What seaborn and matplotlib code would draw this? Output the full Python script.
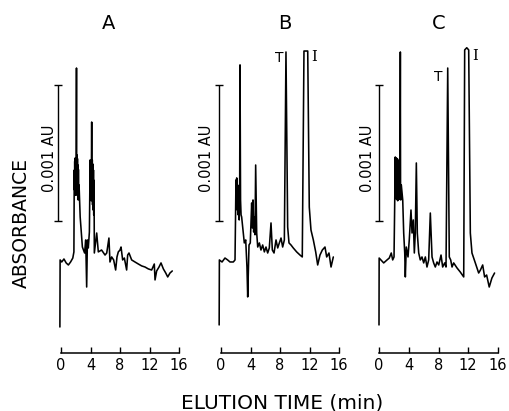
import matplotlib
matplotlib.use("Agg")
import matplotlib.pyplot as plt
import seaborn as sns
import pandas as pd

# ---------------- data (elution time in min, absorbance in mAU = 0.001 AU units) -------------
time_a = [-0.15, -0.12, 0.1, 0.4, 0.7, 1.0, 1.3, 1.6, 1.75, 1.8, 1.83, 1.86, 1.9, 1.93, 1.96,
          2.0, 2.03, 2.06, 2.1, 2.13, 2.16, 2.2, 2.23, 2.26, 2.3, 2.33, 2.36, 2.4, 2.45, 2.6,
          2.9, 3.2, 3.35, 3.48, 3.58, 3.7, 3.85, 3.95, 4.0, 4.05, 4.1, 4.16, 4.2, 4.24, 4.28,
          4.32, 4.36, 4.4, 4.44, 4.48, 4.52, 4.84, 5.06, 5.5, 5.97, 6.2, 6.5, 6.64, 6.87,
          7.14, 7.41, 7.59, 7.77, 8.0, 8.14, 8.36, 8.59, 8.9, 9.04, 9.22, 9.58, 10.03, 10.49,
          10.94, 11.39, 11.84, 12.29, 12.65, 12.75, 12.97, 13.29, 13.56, 13.88, 14.2, 14.47,
          14.78, 15.09]
abs_a = [-0.478, 0.015, 0.0, 0.022, -0.007, -0.022, 0.0, 0.029, 0.074, 0.676, 0.529, 0.74,
         0.50, 0.765, 0.49, 0.76, 0.55, 0.72, 1.426, 0.53, 0.787, 0.49, 0.76, 0.50, 0.713,
         0.456, 0.68, 0.46, 0.566, 0.331, 0.110, 0.066, 0.162, -0.184, 0.162, 0.103, 0.221,
         0.75, 0.48, 0.70, 0.45, 1.029, 0.529, 0.75, 0.42, 0.72, 0.382, 0.676, 0.346, 0.60,
         0.066, 0.213, 0.074, 0.088, 0.051, 0.066, 0.176, 0.0, 0.037, 0.015, -0.059, 0.037,
         0.074, 0.088, 0.110, 0.015, 0.029, -0.059, 0.051, 0.066, 0.015, 0.0, -0.015, -0.029,
         -0.037, -0.051, -0.059, -0.015, -0.132, -0.066, -0.037, -0.007, -0.051, -0.081,
         -0.110, -0.081, -0.066]

time_b = [-0.25, -0.22, 0.14, 0.54, 0.9, 1.22, 1.67, 1.9, 2.03, 2.08, 2.13, 2.2, 2.27, 2.33,
          2.4, 2.47, 2.53, 2.58, 2.65, 2.72, 2.8, 3.16, 3.35, 3.52, 3.62, 3.8, 3.97, 4.16,
          4.25, 4.34, 4.43, 4.52, 4.61, 4.7, 4.84, 4.98, 5.2, 5.42, 5.65, 5.88, 6.1, 6.33,
          6.55, 6.78, 6.96, 7.19, 7.46, 7.69, 7.91, 8.14, 8.36, 8.59, 8.81, 9.04, 9.22, 9.49,
          9.8, 10.26, 10.71, 11.02, 11.25, 11.5, 11.76, 11.97, 12.2, 12.52, 12.84, 13.11,
          13.42, 13.74, 14.1, 14.33, 14.64, 14.92, 15.23]
abs_b = [-0.463, 0.015, 0.0, 0.029, 0.015, 0.0, 0.0, 0.015, 0.603, 0.419, 0.618, 0.382, 0.566,
         0.346, 0.529, 0.309, 0.493, 1.449, 0.456, 0.346, 0.331, 0.140, 0.162, -0.037, -0.257,
         0.125, 0.140, 0.434, 0.25, 0.456, 0.22, 0.331, 0.20, 0.713, 0.213, 0.110, 0.140,
         0.088, 0.125, 0.074, 0.110, 0.066, 0.103, 0.287, 0.088, 0.066, 0.162, 0.103, 0.140,
         0.176, 0.110, 0.162, 1.544, 0.257, 0.140, 0.125, 0.103, 0.074, 0.051, 0.037, 1.551,
         1.551, 1.551, 0.404, 0.235, 0.162, 0.074, -0.022, 0.051, 0.088, 0.110, 0.037, 0.066,
         -0.037, 0.037]

time_c = [0.0, 0.02, 0.63, 1.08, 1.38, 1.65, 1.84, 2.02, 2.19, 2.22, 2.25, 2.28, 2.32, 2.36,
          2.4, 2.44, 2.47, 2.51, 2.55, 2.59, 2.62, 2.66, 2.7, 2.74, 2.78, 2.82, 2.87, 2.9,
          2.93, 3.0, 3.19, 3.32, 3.46, 3.54, 3.67, 3.9, 4.07, 4.3, 4.44, 4.61, 4.75, 4.88,
          5.02, 5.15, 5.34, 5.55, 5.78, 6.01, 6.23, 6.45, 6.68, 6.9, 7.13, 7.35, 7.57, 7.8,
          8.03, 8.34, 8.56, 8.83, 9.01, 9.24, 9.45, 9.64, 9.82, 10.04, 10.49, 10.93, 11.39,
          11.52, 11.8, 12.06, 12.28, 12.5, 12.95, 13.4, 13.64, 13.94, 14.2, 14.47, 14.82,
          15.18, 15.54]
abs_c = [-0.463, 0.029, -0.007, 0.015, 0.029, 0.066, 0.015, 0.037, 0.772, 0.48, 0.76, 0.47,
         0.765, 0.46, 0.75, 0.46, 0.76, 0.45, 0.75, 0.46, 0.735, 0.46, 0.74, 0.47, 0.713,
         0.46, 1.544, 0.47, 0.456, 0.566, 0.456, 0.213, 0.066, -0.110, 0.110, 0.037, 0.162,
         0.382, 0.213, 0.309, 0.066, 0.213, 0.728, 0.213, 0.066, 0.015, 0.037, -0.007, 0.037,
         -0.037, 0.015, 0.360, 0.037, -0.007, -0.037, 0.0, -0.022, 0.051, -0.037, -0.007,
         -0.037, 1.426, 0.037, 0.015, -0.037, -0.007, -0.044, -0.074, -0.110, 1.559, 1.575,
         1.559, 0.213, 0.066, -0.007, -0.081, -0.059, -0.022, -0.110, -0.096, -0.184, -0.118,
         -0.081]

panel_titles = ["A", "B", "C"]
x_ticks = [0, 4, 8, 12, 16]
scale_label = "0.001 AU"
scale_bar = [0.30, 1.30]          # 1 mAU = 0.001 AU
peak_labels = ["T", "I"]
x_label = "ELUTION TIME (min)"
y_label = "ABSORBANCE"

# ---------------- layout -----------------------------------------------------------------------
sns.set_theme(style="white")
plt.rcParams["font.family"] = ["DejaVu Sans"]

W, H = 509, 411
fig = plt.figure(figsize=(W / 100, H / 100), dpi=100)

axis_y_px = 352.7
top_px = 40.0
ylim = (-0.667, 1.632)

panels = [
    dict(left=61, width=118, t=time_a, v=abs_a, bar_x=-0.47, lab_x=-1.56,
         title_x=6.4, peaks=None),
    dict(left=221, width=118, t=time_b, v=abs_b, bar_x=-0.31, lab_x=-1.95,
         title_x=8.7, peaks=[(7.9, 1.50), (12.65, 1.507)]),
    dict(left=379, width=119, t=time_c, v=abs_c, bar_x=-0.03, lab_x=-1.6,
         title_x=8.07, peaks=[(7.97, 1.36), (12.9, 1.515)]),
]

for p, title in zip(panels, panel_titles):
    ax = fig.add_axes([p["left"] / W, (H - axis_y_px) / H, p["width"] / W,
                       (axis_y_px - top_px) / H])
    df = pd.DataFrame({"time": p["t"], "absorbance": p["v"]})
    sns.lineplot(data=df, x="time", y="absorbance", sort=False, estimator=None,
                 color="black", lw=1.15, ax=ax)
    ax.set_xlim(0, 16)
    ax.set_ylim(*ylim)
    ax.set_xticks(x_ticks)
    ax.set_xticklabels([str(t) for t in x_ticks])
    ax.set_yticks([])
    ax.set_xlabel("")
    ax.set_ylabel("")
    for s in ["left", "right", "top"]:
        ax.spines[s].set_visible(False)
    ax.spines["bottom"].set_color("black")
    ax.spines["bottom"].set_linewidth(1.1)
    ax.tick_params(axis="x", direction="in", length=4.5, width=1.0, pad=3.5,
                   labelsize=10.5, colors="black", bottom=True)
    ax.patch.set_alpha(0)

    # scale bar 0.001 AU
    ax.errorbar([p["bar_x"]], [sum(scale_bar) / 2], yerr=[[0.5 * (scale_bar[1] - scale_bar[0])]],
                fmt="none", ecolor="black", elinewidth=1.0, capsize=3, capthick=1.0)
    for c in ax.collections:
        c.set_clip_on(False)
    for ln in ax.lines:
        ln.set_clip_on(False)
    ax.text(p["lab_x"], 0.76, scale_label, rotation=90, ha="center", va="center",
            fontsize=10.5, color="black")

    ax.text(p["title_x"], 1.754, title, ha="center", va="center", fontsize=14,
            color="black")

    if p["peaks"]:
        (tx, ty), (ix, iy) = p["peaks"]
        ax.text(tx, ty, peak_labels[0], ha="center", va="center", fontsize=10,
                color="black")
        ax.text(ix, iy, peak_labels[1], ha="center", va="center", fontsize=10.5,
                color="black", family=["DejaVu Serif"])

fig.text(21 / W, 1 - 223 / H, y_label, rotation=90, ha="center", va="center",
         fontsize=13.5, color="black")
fig.text(282 / W, 1 - 403 / H, x_label, ha="center", va="center", fontsize=14.5,
         color="black")

fig.savefig("out.png", dpi=100, facecolor="white")
